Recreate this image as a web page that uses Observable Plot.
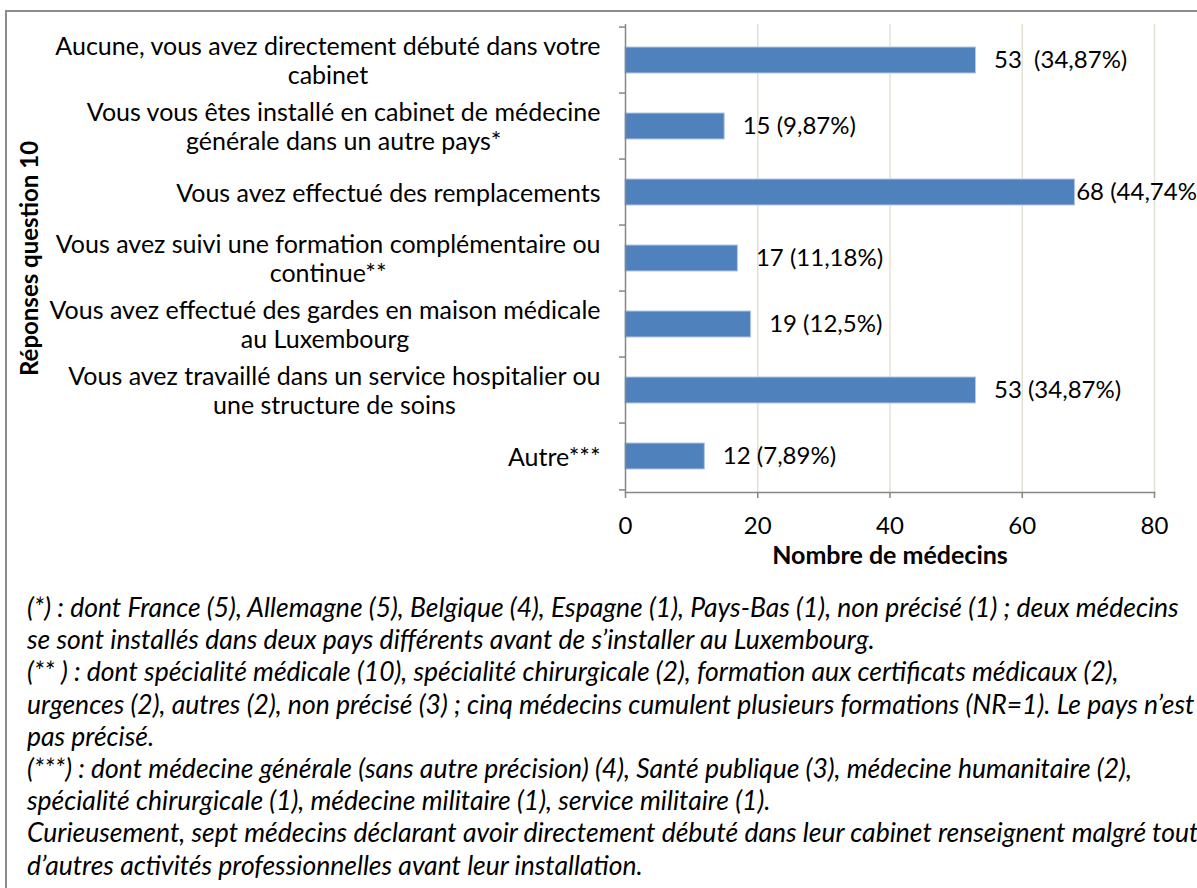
<!DOCTYPE html>
<html><head><meta charset="utf-8">
<script src="https://cdn.jsdelivr.net/npm/d3@7"></script>
<script src="https://cdn.jsdelivr.net/npm/@observablehq/plot@0.6"></script>
<style>
body{margin:0;background:#fff;font-family:Lato,sans-serif;}
#wrap{position:relative;width:1197px;height:888px;overflow:hidden;background:#fff;}
#box{position:absolute;left:5px;top:10px;width:1300px;height:1000px;border-left:2px solid #8c8c8c;border-top:2px solid #8c8c8c;}
#chart{position:absolute;left:0;top:0;}
#caption{position:absolute;left:27px;top:591px;width:1170px;font-family:Lato,sans-serif;font-style:italic;font-size:26.5px;line-height:32.2px;color:#000;white-space:nowrap;}
</style></head>
<body><div id="wrap"><div id="box"></div><div id="chart"></div><div id="caption"></div></div>
<script>
const categories = [
  "Aucune, vous avez directement débuté dans votre\ncabinet",
  "Vous vous êtes installé en cabinet de médecine\ngénérale dans un autre pays*",
  "Vous avez effectué des remplacements",
  "Vous avez suivi une formation complémentaire ou\ncontinue**",
  "Vous avez effectué des gardes en maison médicale\nau Luxembourg",
  "Vous avez travaillé dans un service hospitalier ou\nune structure de soins",
  "Autre***"
];
const counts = [53, 15, 68, 17, 19, 53, 12];
const valueLabels = ["53  (34,87%)", "15 (9,87%)", "68 (44,74%)", "17 (11,18%)", "19 (12,5%)", "53 (34,87%)", "12 (7,89%)"];
const xTicks = [0, 20, 40, 60, 80];
const xTitle = "Nombre de médecins";
const yTitle = "Réponses question 10";
const captionLines = [
  "(*) : dont France (5), Allemagne (5), Belgique (4), Espagne (1), Pays-Bas (1), non précisé (1) ; deux médecins",
  "se sont installés dans deux pays différents avant de s’installer au Luxembourg.",
  "(** ) : dont spécialité médicale (10), spécialité chirurgicale (2), formation aux certificats médicaux (2),",
  "urgences (2), autres (2), non précisé (3) ; cinq médecins cumulent plusieurs formations (NR=1). Le pays n’est",
  "pas précisé.",
  "(***) : dont médecine générale (sans autre précision) (4), Santé publique (3), médecine humanitaire (2),",
  "spécialité chirurgicale (1), médecine militaire (1), service militaire (1).",
  "Curieusement, sept médecins déclarant avoir directement débuté dans leur cabinet renseignent malgré tout",
  "d’autres activités professionnelles avant leur installation."
];

const data = categories.map((c, i) => ({cat: c, n: counts[i], label: valueLabels[i]}));
const W = 1197, H = 580, mL = 625, mT = 24, plotBottom = 492, mR = 43;
const bw = (plotBottom - mT) / categories.length;
const axisColor = "#868686";

const chart = Plot.plot({
  width: W, height: H,
  marginLeft: mL, marginTop: mT, marginRight: mR, marginBottom: H - plotBottom,
  style: {fontFamily: "Lato, sans-serif", fontSize: "24px", background: "transparent", color: "#000", overflow: "visible"},
  x: {domain: [0, 80]},
  y: {domain: categories, padding: 0},
  marks: [
    Plot.gridX(xTicks.filter(d => d > 0), {stroke: "#e4e0d2", strokeOpacity: 1, strokeWidth: 1.5}),
    Plot.barX(data, {x: "n", y: "cat", fill: "#4f81bd", stroke: "#b4c8e2", strokeWidth: 1, insetTop: 20, insetBottom: 20}),
    Plot.ruleX([0], {stroke: axisColor, strokeWidth: 1.5}),
    Plot.frame({anchor: "bottom", stroke: axisColor, strokeWidth: 1.5}),
    Plot.axisX({ticks: xTicks, tickSize: 6, tickPadding: 18, stroke: axisColor, strokeWidth: 1.5, label: null, fontSize: 24}),
    Plot.axisY({tickSize: 6, tickFormat: () => "", dy: -bw / 2, stroke: axisColor, strokeWidth: 1.5, label: null}),
    Plot.axisY({ticks: [categories[categories.length - 1]], tickSize: 6, tickFormat: () => "", dy: bw / 2, stroke: axisColor, strokeWidth: 1.5, label: null}),
    Plot.axisY({tickSize: 0, tickPadding: 25, tickFormat: d => d, label: null, fontSize: 25, lineHeight: 1.15}),
    Plot.text(data.filter(d => d.n < 60), {x: "n", y: "cat", text: "label", textAnchor: "start", dx: 18, fontSize: 24}),
    Plot.text(data.filter(d => d.n >= 60), {x: "n", y: "cat", text: "label", textAnchor: "start", dx: 1, fontSize: 24}),
    Plot.text([xTitle], {frameAnchor: "bottom", lineAnchor: "middle", dy: 63, fontWeight: "bold", fontSize: 25}),
    Plot.text([yTitle], {frameAnchor: "left", textAnchor: "middle", lineAnchor: "middle", rotate: -90, dx: -595, fontWeight: "bold", fontSize: 24})
  ]
});
document.getElementById("chart").append(chart);

// center each line of the multi-line category labels within its right-aligned block
chart.querySelectorAll('g[aria-label="y-axis tick label"] text').forEach(t => {
  const bb = t.getBBox();
  if (!bb.width) return;
  t.setAttribute("text-anchor", "middle");
  t.setAttribute("transform", (t.getAttribute("transform") || "") + ` translate(${bb.x + bb.width / 2},0)`);
});

const cap = document.getElementById("caption");
captionLines.forEach(l => { const d = document.createElement("div"); d.textContent = l; cap.append(d); });
</script>
</body></html>
